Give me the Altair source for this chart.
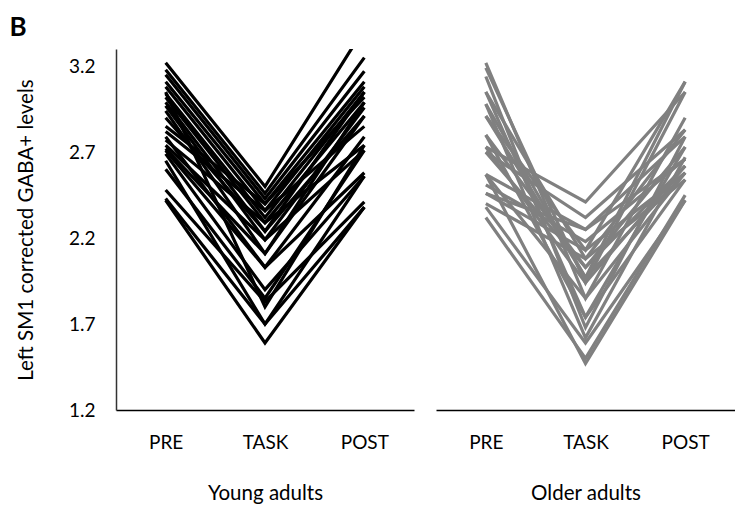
import altair as alt
import pandas as pd

times = ["PRE", "TASK", "POST"]

young_pre = [3.22, 3.18, 3.15, 3.11, 3.08, 3.04, 3.02, 2.99, 2.97, 2.94, 2.85, 2.79, 2.77,
             2.74, 2.71, 2.69, 2.60, 2.48, 2.43, 2.42, 2.90, 3.05, 2.72, 2.82, 2.65]
young_task = [2.50, 2.46, 2.43, 2.40, 2.36, 2.32, 2.29, 2.24, 2.19, 2.11, 2.40, 2.03, 2.29,
              2.19, 2.03, 1.90, 1.85, 1.83, 1.70, 1.59, 2.24, 1.80, 2.11, 2.36, 1.70]
young_post = [3.42, 3.25, 3.17, 3.11, 3.08, 3.05, 2.99, 3.05, 2.96, 2.91, 3.02, 2.79, 2.74,
              2.71, 2.58, 2.56, 2.71, 2.41, 2.38, 2.38, 2.91, 2.74, 2.99, 2.85, 2.56]

older_pre = [3.22, 3.19, 3.14, 3.05, 2.98, 2.91, 2.80, 2.73, 2.70, 2.57, 2.57, 2.51, 2.46,
             2.40, 2.38, 2.32, 2.70, 2.73, 3.05, 2.57, 2.80, 2.46, 2.91, 2.98]
older_task = [1.85, 1.94, 1.68, 1.74, 1.62, 1.97, 2.03, 2.41, 2.32, 1.47, 2.25, 2.18, 2.13,
              2.08, 1.59, 1.50, 2.03, 1.94, 2.08, 1.85, 1.74, 2.25, 2.13, 1.97]
older_post = [2.90, 3.05, 2.79, 2.73, 2.67, 3.11, 2.62, 3.05, 2.83, 2.42, 2.79, 2.66, 2.58,
              2.54, 2.42, 2.45, 2.73, 2.62, 2.83, 2.58, 2.54, 2.66, 3.11, 2.58]

y_ticks = [1.2, 1.7, 2.2, 2.7, 3.2]


def long_table(pre, task, post, group):
    rows = []
    for i, vals in enumerate(zip(pre, task, post)):
        for k, (t, v) in enumerate(zip(times, vals)):
            rows.append({"subject": f"{group}{i}", "time": t, "idx": k, "value": v})
    return pd.DataFrame(rows)


young_df = long_table(young_pre, young_task, young_post, "Y")
older_df = long_table(older_pre, older_task, older_post, "O")

FONT = "Lato"
ydom = [1.2, 3.3]


def x_axis(title):
    return alt.Axis(title=title, labelAngle=0, ticks=False, tickSize=0, grid=False,
                    domainColor="black", domainWidth=1.5, labelPadding=23, titlePadding=31,
                    labelFontSize=19, titleFontSize=20.5, titleFontWeight="normal",
                    labelFont=FONT, titleFont=FONT, labelColor="black", titleColor="black")


left = alt.Chart(young_df).mark_line(color="black", strokeWidth=3.2, clip=True).encode(
    x=alt.X("time:N", sort=times, scale=alt.Scale(type="point", padding=0.5),
            axis=x_axis("Young adults")),
    y=alt.Y("value:Q", scale=alt.Scale(domain=ydom, nice=False, zero=False),
            axis=alt.Axis(values=y_ticks, format=".1f", title="Left SM1 corrected GABA+ levels",
                          ticks=False, tickSize=0, grid=False, labelPadding=21, titlePadding=32,
                          labelFontSize=19, titleFontSize=20.5, titleFontWeight="normal",
                          labelFont=FONT, titleFont=FONT, labelColor="black", titleColor="black",
                          domainColor="#333333", domainWidth=1.5)),
    detail="subject:N",
    order="idx:Q",
).properties(width=298, height=361)

right = alt.Chart(older_df).mark_line(color="#808080", strokeWidth=3.2, clip=True).encode(
    x=alt.X("time:N", sort=times, scale=alt.Scale(type="point", padding=0.5),
            axis=x_axis("Older adults")),
    y=alt.Y("value:Q", scale=alt.Scale(domain=ydom, nice=False, zero=False), axis=None),
    detail="subject:N",
    order="idx:Q",
).properties(width=299, height=361)

chart = alt.hconcat(
    left, right, spacing=22,
    title=alt.TitleParams("B", anchor="start", frame="bounds", fontSize=26, fontWeight="bold",
                          font=FONT, color="black", offset=8, dx=-7),
).resolve_scale(x="independent", y="independent").properties(
    padding={"left": 1, "top": 7, "right": 0, "bottom": 0}
).configure_view(stroke=None)

chart.save("out.html", embed_options={"renderer": "svg", "actions": False})
